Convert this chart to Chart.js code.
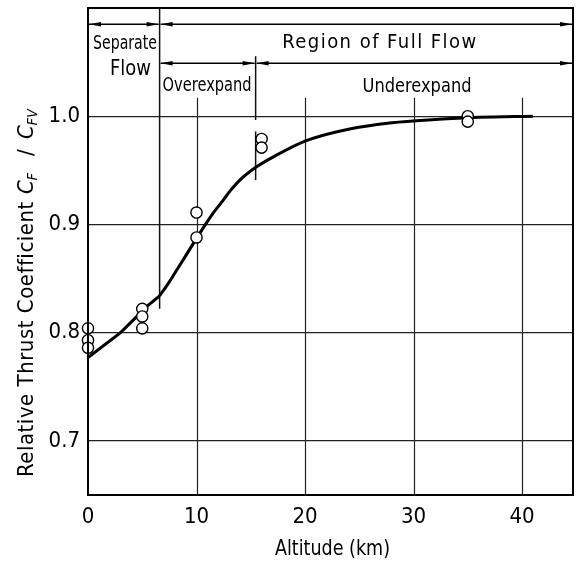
<!DOCTYPE html>
<html><head><meta charset="utf-8">
<script src="https://cdn.jsdelivr.net/npm/chart.js@4/dist/chart.umd.min.js"></script>
<style>html,body{margin:0;padding:0;background:#fff}#wrap{width:576px;height:565px}</style>
</head><body><div id="wrap"><canvas id="c" width="576" height="565"></canvas></div>
<script>
// ---- data ----
const altitudeTicks = [0, 10, 20, 30, 40];
const coefTicks = [0.7, 0.8, 0.9, 1.0];
const measAltitude = [0, 0, 0, 5, 5, 5, 10, 10, 16, 16, 35, 35];
const measCoef = [0.804, 0.793, 0.786, 0.822, 0.815, 0.804, 0.911, 0.888, 0.979, 0.971, 1.000, 0.995];
const sepCurveAltitude = [0, 3, 4.3, 5.4, 6.6];
const sepCurveCoef = [0.777, 0.800, 0.813, 0.824, 0.834];
const fullCurveAltitude = [6.6, 7.5, 8.5, 9.5, 10.5, 11.5, 12.5, 13.1, 14, 15.5, 17, 20, 24, 28, 32, 36, 41];
const fullCurveCoef = [0.834, 0.847, 0.863, 0.879, 0.895, 0.910, 0.923, 0.931, 0.941, 0.953, 0.962, 0.977, 0.988, 0.994, 0.997, 0.999, 1.0];
const regionLabels = ['Separate', 'Flow', 'Region of Full Flow', 'Overexpand', 'Underexpand'];
const separateEndAlt = 6.6;
const overexpandEndAlt = 15.45;
const altMin = 0, altMax = 44.7, coefMin = 0.65, coefMax = 1.1;

const FONT = "'DejaVu Sans Condensed', 'Liberation Sans', sans-serif";
const pts = (xs, ys) => xs.map((v, i) => ({x: v, y: ys[i]}));

function drawFit(ctx, text, left, baseline, width) {
  ctx.letterSpacing = '0px';
  const w = ctx.measureText(text).width;
  const n = text.length;
  ctx.textAlign = 'left';
  if (w > width) {
    ctx.save();
    ctx.translate(left, baseline);
    ctx.scale(width / w, 1);
    ctx.fillText(text, 0, 0);
    ctx.restore();
  } else {
    const ls = n > 1 ? (width - w) / (n - 1) : 0;
    ctx.letterSpacing = ls + 'px';
    ctx.fillText(text, left, baseline);
    ctx.letterSpacing = '0px';
  }
}
function seg(ctx, x1, y1, x2, y2) { ctx.beginPath(); ctx.moveTo(x1, y1); ctx.lineTo(x2, y2); ctx.stroke(); }
function head(ctx, x, y, dir) {
  ctx.beginPath(); ctx.moveTo(x, y); ctx.lineTo(x - dir * 12, y - 2.3); ctx.lineTo(x - dir * 12, y + 2.3); ctx.closePath(); ctx.fill();
}
function dblArrow(ctx, x1, x2, y) {
  seg(ctx, x1, y, x2, y); head(ctx, x1, y, -1); head(ctx, x2, y, 1);
}

const deco = {
  id: 'deco',
  beforeDatasetsDraw(chart) {
    const {ctx, chartArea: a, scales: {x, y}} = chart;
    ctx.save();
    ctx.strokeStyle = '#222'; ctx.lineWidth = 1.2;
    altitudeTicks.slice(1).forEach(t => {
      const px = Math.round(x.getPixelForValue(t)) + 0.5;
      seg(ctx, px, y.getPixelForValue(1.017), px, a.bottom);
    });
    ctx.strokeStyle = '#111'; ctx.lineWidth = 1.5;
    const xs = x.getPixelForValue(separateEndAlt);
    seg(ctx, xs, a.top, xs, y.getPixelForValue(0.822));
    const xo = x.getPixelForValue(overexpandEndAlt);
    seg(ctx, xo, y.getPixelForValue(1.0555), xo, y.getPixelForValue(0.9965));
    seg(ctx, xo, y.getPixelForValue(0.986), xo, y.getPixelForValue(0.941));
    ctx.restore();
  },
  afterDraw(chart) {
    const {ctx, chartArea: a, scales: {x, y}} = chart;
    ctx.save();
    ctx.strokeStyle = '#000'; ctx.fillStyle = '#000';
    ctx.lineWidth = 2;
    ctx.strokeRect(a.left, a.top, a.right - a.left, a.bottom - a.top);
    // arrows
    ctx.lineWidth = 1.4;
    const xs = x.getPixelForValue(separateEndAlt), xo = x.getPixelForValue(overexpandEndAlt);
    const r1 = y.getPixelForValue(1.085), r2 = y.getPixelForValue(1.049);
    dblArrow(ctx, a.left + 1, xs - 1, r1);
    dblArrow(ctx, xs + 1, a.right - 1, r1);
    dblArrow(ctx, xs + 1, xo - 1, r2);
    dblArrow(ctx, xo + 1, a.right - 1, r2);
    // region texts
    ctx.font = '20px ' + FONT;
    ctx.textBaseline = 'alphabetic';
    drawFit(ctx, regionLabels[0], a.left + 5, y.getPixelForValue(1.0619), 64);
    ctx.font = '21px ' + FONT;
    drawFit(ctx, regionLabels[1], a.left + 22, y.getPixelForValue(1.0379), 41);
    ctx.font = '20px ' + FONT;
    drawFit(ctx, regionLabels[2], x.getPixelForValue(17.9), y.getPixelForValue(1.0628), 194);
    drawFit(ctx, regionLabels[3], xs + 3, y.getPixelForValue(1.0234), 89);
    drawFit(ctx, regionLabels[4], x.getPixelForValue(25.3), y.getPixelForValue(1.0225), 109);
    // x title
    ctx.font = '22px ' + FONT;
    drawFit(ctx, 'Altitude (km)', 275, 555, 115);
    // y title
    ctx.translate(33, 477);
    ctx.rotate(-Math.PI / 2);
    drawFit(ctx, 'Relative Thrust Coefficient', 0, 0, 275);
    ctx.font = 'italic 22px ' + FONT;
    ctx.fillText('C', 283, 0);
    let w = ctx.measureText('C').width;
    ctx.font = 'italic 14px ' + FONT;
    ctx.fillText('F', 283 + w, 4);
    ctx.font = '22px ' + FONT;
    ctx.fillText('/', 321, 0);
    ctx.font = 'italic 22px ' + FONT;
    ctx.fillText('C', 338, 0);
    ctx.font = 'italic 14px ' + FONT;
    drawFit(ctx, 'FV', 338 + w, 4, 16);
    ctx.restore();
  }
};

new Chart(document.getElementById('c'), {
  type: 'scatter',
  data: {
    datasets: [
      {
        label: 'Measured', data: pts(measAltitude, measCoef), order: 0,
        pointRadius: 5.6, pointBackgroundColor: '#fff', pointBorderColor: '#000', pointBorderWidth: 1.4,
        showLine: false, clip: false
      },
      {
        label: 'Separate', data: pts(sepCurveAltitude, sepCurveCoef), order: 1,
        showLine: true, borderColor: '#000', borderWidth: 3, pointRadius: 0, tension: 0, clip: false
      },
      {
        label: 'Full', data: pts(fullCurveAltitude, fullCurveCoef), order: 1,
        showLine: true, borderColor: '#000', borderWidth: 3, pointRadius: 0,
        cubicInterpolationMode: 'monotone', clip: false
      }
    ]
  },
  options: {
    responsive: false, animation: false, devicePixelRatio: 1,
    layout: {autoPadding: false, padding: {top: 8, right: 3, left: 0, bottom: 0}},
    plugins: {legend: {display: false}, tooltip: {enabled: false}},
    scales: {
      x: {
        type: 'linear', min: altMin, max: altMax,
        afterBuildTicks: s => { s.ticks = altitudeTicks.map(v => ({value: v})); },
        afterFit: s => { s.height = 70; s.paddingLeft = 0; s.paddingRight = 0; },
        grid: {display: false}, border: {display: false},
        ticks: {color: '#000', font: {family: FONT, size: 22}, padding: 1, maxRotation: 0, callback: v => String(v)}
      },
      y: {
        type: 'linear', min: coefMin, max: coefMax,
        afterBuildTicks: s => { s.ticks = coefTicks.map(v => ({value: v})); },
        afterFit: s => { s.width = 88; s.paddingTop = 0; s.paddingBottom = 0; },
        grid: {color: '#222', lineWidth: 1.2, drawTicks: false}, border: {display: false},
        ticks: {color: '#000', font: {family: FONT, size: 22}, padding: 8, callback: v => v.toFixed(1)}
      }
    }
  },
  plugins: [deco]
});
</script>
</body></html>
